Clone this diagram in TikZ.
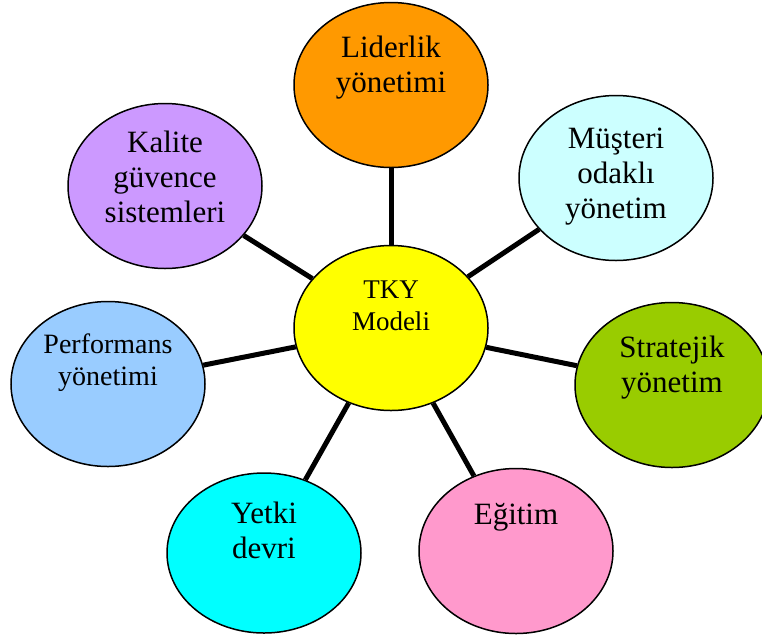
\documentclass[tikz,border=0pt]{standalone}
\usepackage{fontspec}
\setmainfont{Liberation Serif}
\usetikzlibrary{shapes.geometric,backgrounds}
\definecolor{cLid}{HTML}{FF9900}
\definecolor{cMus}{HTML}{CCFFFF}
\definecolor{cStr}{HTML}{99CC00}
\definecolor{cEgi}{HTML}{FF99CC}
\definecolor{cYet}{HTML}{00FFFF}
\definecolor{cPer}{HTML}{99CCFF}
\definecolor{cKal}{HTML}{CC99FF}
\definecolor{cTky}{HTML}{FFFF00}
\newcommand\mylines[1]{\begin{tabular}[t]{@{}c@{}}#1\end{tabular}}
\tikzset{
  bubble/.style={ellipse, draw=black, line width=1.5pt, inner sep=0pt,
    minimum width=194pt, minimum height=165pt},
  lbl/.style={anchor=base, inner sep=0pt, font=\fontsize{31}{35}\selectfont},
  lblsmall/.style={anchor=base, inner sep=0pt, font=\fontsize{28}{32}\selectfont},
  lblctr/.style={anchor=base, inner sep=0pt, font=\fontsize{27}{32}\selectfont},
  link/.style={line width=5pt, draw=black},
}
\begin{document}
\begin{tikzpicture}[x=1pt,y=-1pt]
\clip (0,0) rectangle (762,641);
\node[bubble, fill=cTky] (tky) at (391,328) {};
\node[bubble, fill=cLid] (lid) at (391,85) {};
\node[bubble, fill=cMus] (mus) at (616,178) {};
\node[bubble, fill=cStr] (str) at (672,385) {};
\node[bubble, fill=cEgi] (egi) at (516,551) {};
\node[bubble, fill=cYet, minimum height=160pt] (yet) at (264,553) {};
\node[bubble, fill=cPer] (per) at (108,384) {};
\node[bubble, fill=cKal] (kal) at (165,186) {};

\node[lblctr] (tkyt) at (391,298) {\mylines{TKY\\Modeli}};
\node[lbl] (lidt) at (391,57) {\mylines{Liderlik\\yönetimi}};
\node[lbl] (must) at (616,148) {\mylines{Müşteri\\odaklı\\yönetim}};
\node[lbl] (strt) at (672,357) {\mylines{Stratejik\\yönetim}};
\node[lbl] (egit) at (516,524) {\mylines{Eğitim}};
\node[lbl] (yett) at (264,523) {\mylines{Yetki\\devri}};
\node[lblsmall] (pert) at (108,353) {\mylines{Performans\\yönetimi}};
\node[lbl] (kalt) at (165,152) {\mylines{Kalite\\güvence\\sistemleri}};

\begin{scope}[on background layer]
\draw[link] (tky) -- (lid);
\draw[link] (tky) -- (mus);
\draw[link] (tky) -- (str);
\draw[link] (tky) -- (egi);
\draw[link] (tky) -- (yet);
\draw[link] (tky) -- (per);
\draw[link] (tky) -- (kal);
\end{scope}
\end{tikzpicture}
\end{document}
